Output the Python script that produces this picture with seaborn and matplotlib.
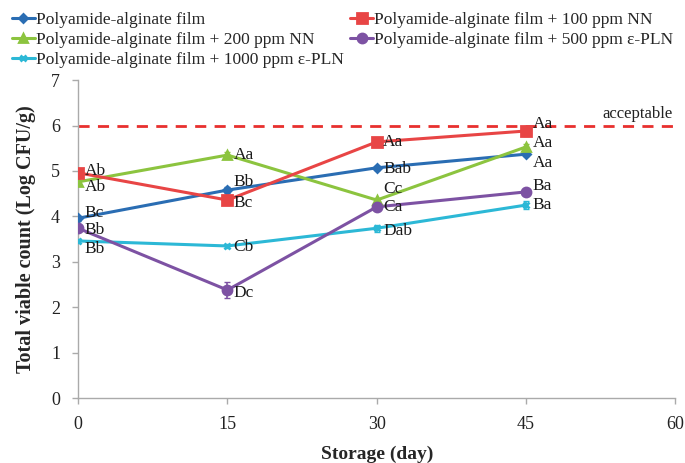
import numpy as np
import pandas as pd
import matplotlib
matplotlib.use("Agg")
import matplotlib.pyplot as plt
import seaborn as sns

days = [0, 15, 30, 45]
series_names = [
    "Polyamide-alginate film",
    "Polyamide-alginate film + 200 ppm NN",
    "Polyamide-alginate film + 1000 ppm ε-PLN",
    "Polyamide-alginate film + 100 ppm NN",
    "Polyamide-alginate film + 500 ppm ε-PLN",
]
control = [3.96, 4.58, 5.07, 5.37]
nn200 = [4.76, 5.35, 4.36, 5.53]
pln1000 = [3.46, 3.35, 3.74, 4.25]
nn100 = [4.96, 4.36, 5.64, 5.88]
pln500 = [3.74, 2.38, 4.21, 4.54]

control_err = [0.05, 0.06, 0.04, 0.05]
nn200_err = [0.05, 0.06, 0.05, 0.06]
pln1000_err = [0.04, 0.05, 0.08, 0.08]
nn100_err = [0.05, 0.05, 0.05, 0.10]
pln500_err = [0.05, 0.17, 0.06, 0.05]

control_lbl = ["Bc", "Bb", "Bab", "Aa"]
nn200_lbl = ["Ab", "Aa", "Cc", "Aa"]
pln1000_lbl = ["Bb", "Cb", "Dab", "Ba"]
nn100_lbl = ["Ab", "Bc", "Aa", "Aa"]
pln500_lbl = ["Bb", "Dc", "Ca", "Ba"]

acceptable_limit = 6

values = [control, nn200, pln1000, nn100, pln500]
errors = [control_err, nn200_err, pln1000_err, nn100_err, pln500_err]
letters = [control_lbl, nn200_lbl, pln1000_lbl, nn100_lbl, pln500_lbl]
colors = ["#2a6db3", "#8cc43f", "#2cb8d6", "#e84545", "#7d52a3"]
markers = ["D", "^", "x", "s", "o"]
msizes = [4.5, 6, 5, 6.5, 6.5]

# vertical label offsets (in points) per series and day
label_dy = [
    [4, 6, -1, -6.5],
    [-3.5, 0, 8, 3],
    [-6, -1, -2, 0],
    [1.5, -2, 0, 5],
    [-1, -2, 0, 4],
]

rows = []
for name, ys in zip(series_names, values):
    for d, y in zip(days, ys):
        rows.append({"day": d, "count": y, "series": name})
df = pd.DataFrame(rows)

sns.set_style("white")
plt.rcParams["font.family"] = ["Liberation Serif", "DejaVu Serif"]

fig = plt.figure(figsize=(6.85, 4.63), dpi=100)
ax = fig.add_axes([0.114, 0.140, 0.872, 0.687])

ax.axhline(acceptable_limit, color="#e8302e", lw=2, ls=(0, (4, 3)), zorder=1)
ax.text(59.7, acceptable_limit + 0.08, "acceptable", ha="right", va="bottom",
        fontsize=12, color="#222222")

palette = dict(zip(series_names, colors))
sns.lineplot(data=df, x="day", y="count", hue="series", palette=palette,
             hue_order=series_names, lw=2.2, legend=False, ax=ax, zorder=3)

handles = []
for name, ys, es, lbls, c, m, ms, dys in zip(series_names, values, errors, letters,
                                               colors, markers, msizes, label_dy):
    ax.errorbar(days, ys, yerr=es, fmt="none", ecolor=c, elinewidth=1.2,
                capsize=2.5, zorder=4)
    ax.plot(days, ys, ls="none", marker=m, color=c, ms=ms, mew=2, zorder=5)
    h, = ax.plot([], [], color=c, lw=2.2, marker=m, ms=ms, mew=2)
    handles.append(h)
    for d, y, t, dy in zip(days, ys, lbls, dys):
        ax.annotate(t, (d, y), xytext=(4.5, dy), textcoords="offset points",
                    ha="left", va="center", fontsize=12.5, color="#1a1a1a", zorder=6)

ax.set_xlim(0, 60)
ax.set_ylim(0, 7)
ax.set_xticks([0, 15, 30, 45, 60])
ax.set_yticks(range(0, 8))
ax.tick_params(axis="both", direction="out", length=4, width=1, color="#aaaaaa",
               labelsize=13, labelcolor="#222222", bottom=True, left=True, pad=9)
for s in ["top", "right"]:
    ax.spines[s].set_visible(False)
for s in ["left", "bottom"]:
    ax.spines[s].set_color("#aaaaaa")
    ax.spines[s].set_linewidth(1)

ax.set_xlabel("Storage (day)", fontsize=14, fontweight="bold", labelpad=9)
ax.set_ylabel("Total viable count (Log CFU/g)", fontsize=14.5, fontweight="bold", labelpad=11)

fig.legend(handles, series_names, loc="upper left", bbox_to_anchor=(0.0, 1.0),
           ncol=2, frameon=False, fontsize=12.5, handlelength=1.3, handletextpad=0.05,
           columnspacing=0.4, labelspacing=0.22, borderaxespad=0.3)

fig.savefig("out.png", dpi=100)
